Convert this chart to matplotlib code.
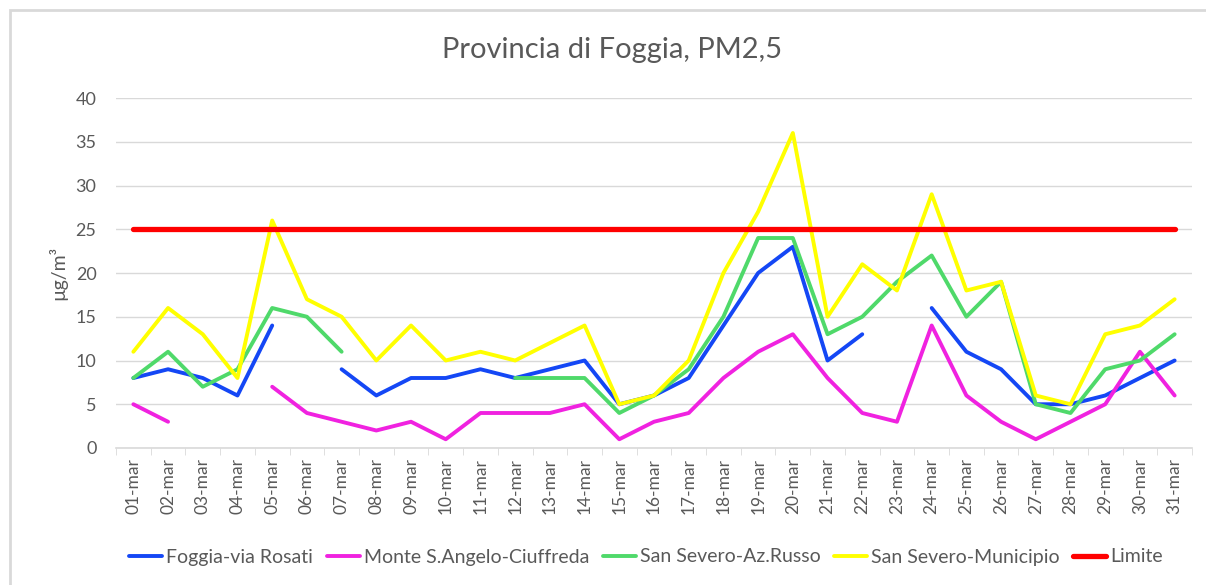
import matplotlib.pyplot as plt
import numpy as np
from matplotlib.patches import Rectangle

plt.rcParams['font.family'] = ['Lato', 'DejaVu Sans']

nan = np.nan
days = [f"{d:02d}-mar" for d in range(1, 32)]

foggia = [8, 9, 8, 6, 14, nan, 9, 6, 8, 8, 9, 8, 9, 10, 5, 6, 8, 14, 20, 23,
          10, 13, nan, 16, 11, 9, 5, 5, 6, 8, 10]
monte = [5, 3, nan, nan, 7, 4, 3, 2, 3, 1, 4, 4, 4, 5, 1, 3, 4, 8, 11, 13,
         8, 4, 3, 14, 6, 3, 1, 3, 5, 11, 6]
russo = [8, 11, 7, 9, 16, 15, 11, nan, nan, nan, nan, 8, 8, 8, 4, 6, 9, 15, 24, 24,
         13, 15, 19, 22, 15, 19, 5, 4, 9, 10, 13]
municipio = [11, 16, 13, 8, 26, 17, 15, 10, 14, 10, 11, 10, 12, 14, 5, 6, 10, 20, 27, 36,
             15, 21, 18, 29, 18, 19, 6, 5, 13, 14, 17]
limite = [25] * 31

series = [
    ("Foggia-via Rosati", foggia, "#1447f5", 2.8),
    ("Monte S.Angelo-Ciuffreda", monte, "#f022e0", 2.8),
    ("San Severo-Az.Russo", russo, "#4fd96a", 2.8),
    ("San Severo-Municipio", municipio, "#ffff00", 2.8),
    ("Limite", limite, "#ff0000", 3.8),
]

fig = plt.figure(figsize=(12.06, 5.85), dpi=100)
ax = fig.add_axes([116 / 1206, 137 / 585, 1076 / 1206, 350 / 585])

x = np.arange(1, 32)
for name, vals, color, lw in series:
    ax.plot(x, vals, color=color, lw=lw, label=name, solid_capstyle='round')

ax.set_xlim(0.5, 31.5)
ax.set_ylim(0, 40)
ax.set_yticks(range(0, 41, 5))
ax.set_xticks(x)
ax.set_xticklabels(days, rotation=90, fontsize=12.5, color="#595959")
ax.set_xticks(np.arange(0.5, 32, 1), minor=True)
ax.tick_params(axis='x', which='major', length=0, pad=7)
ax.tick_params(axis='x', which='minor', length=5, color="#d9d9d9")
ax.tick_params(axis='y', length=0, labelsize=13, labelcolor="#595959", pad=14)
ax.grid(axis='y', color="#d9d9d9", lw=1)
ax.set_axisbelow(True)
for side in ("top", "right", "left"):
    ax.spines[side].set_visible(False)
ax.spines["bottom"].set_color("#d9d9d9")
ax.spines["bottom"].set_linewidth(1.2)

ax.set_ylabel("µg/m³", fontsize=14, color="#595959", labelpad=6)
fig.text(612 / 1206, 1 - 50 / 585, "Provincia di Foggia, PM2,5", ha='center', va='center',
         fontsize=21, color="#595959")

fig.legend(loc='center', bbox_to_anchor=(646 / 1206, 1 - 557 / 585), ncol=5, frameon=False,
           fontsize=14, handlelength=1.7, handletextpad=0.2, columnspacing=0.7,
           labelcolor="#595959")

fig.patches.append(Rectangle((10 / 1206, -0.1), 1.2, 1 - 10 / 585 + 0.1,
                             transform=fig.transFigure, fill=False,
                             edgecolor="#d9d9d9", lw=2))

fig.savefig("out.png", dpi=100)
